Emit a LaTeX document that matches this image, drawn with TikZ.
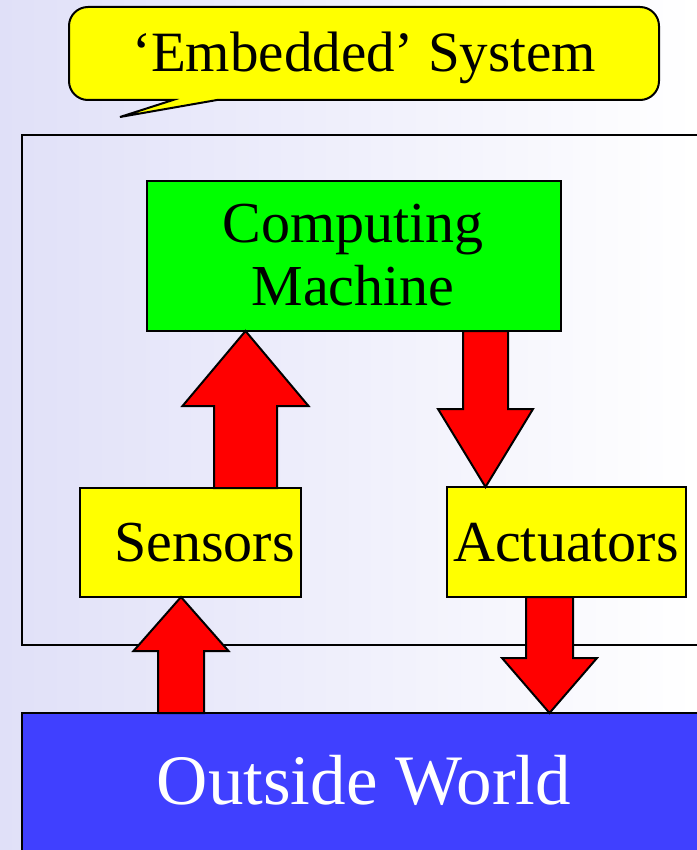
\documentclass[tikz,border=0pt]{standalone}
\usepackage{fontspec}
\setmainfont{Liberation Serif}
\usetikzlibrary{calc}
\definecolor{bgl}{RGB}{224,224,248}
\definecolor{wblue}{RGB}{64,64,255}
\definecolor{cgreen}{RGB}{0,255,0}
\definecolor{cyellow}{RGB}{255,255,0}
\definecolor{cred}{RGB}{255,0,0}
% block arrow: #1 base point, #2 tip point, #3 shaft half width, #4 head half width, #5 head length
\newcommand\vblock[5]{%
  \draw[blk] let \p1=(#1), \p2=(#2), \n1={ifthenelse(\y2>\y1,1,-1)} in
    (\x1-#3pt,\y1) -- (\x1-#3pt,\y2-\n1*#5pt) -- (\x1-#4pt,\y2-\n1*#5pt) --
    (\x1,\y2) -- (\x1+#4pt,\y2-\n1*#5pt) -- (\x1+#3pt,\y2-\n1*#5pt) --
    (\x1+#3pt,\y1) -- cycle;}
\begin{document}
\begin{tikzpicture}[x=1pt,y=-1pt,
  box/.style={draw=black, line width=2pt, rectangle, inner sep=0pt, outer sep=0pt},
  lbl/.style={font=\fontsize{58}{63}\selectfont, inner sep=0pt, anchor=base},
  blk/.style={draw=black, fill=cred, line width=2pt, line join=miter},
  bubble/.style={draw=black, fill=cyellow, line width=2pt, line join=miter}]
\useasboundingbox (0,0) rectangle (696,850);
\fill[left color=bgl, right color=white] (0,0) rectangle (696,850);
% callout
\draw[bubble] (120,117) -- (217,100) -- (640,100)
  .. controls (650.5,100) and (659,91.5) .. (659,81) -- (659,26)
  .. controls (659,15.5) and (650.5,7) .. (640,7) -- (88,7)
  .. controls (77.5,7) and (69,15.5) .. (69,26) -- (69,81)
  .. controls (69,91.5) and (77.5,100) .. (88,100) -- (173,100) -- cycle;
\node[lbl, font=\fontsize{57}{60}\selectfont] (title) at (364,72) {‘Embedded’ System};
% system box
\node[box, minimum width=698pt, minimum height=510pt] (sys) at (371,390) {};
% boxes
\node[box, fill=cgreen, minimum width=414pt, minimum height=150pt] (comp) at (354,256) {};
\node[lbl] (compl1) at (353,242) {Computing};
\node[lbl] (compl2) at (353,305) {Machine};
\node[box, fill=cyellow, minimum width=221pt, minimum height=109pt] (sens) at (190.5,542.5) {};
\node[lbl] (sensl) at (204.5,561) {Sensors};
\node[box, fill=cyellow, minimum width=239pt, minimum height=110pt] (act) at (566.5,542) {};
\node[lbl] (actl) at (566,561) {Actuators};
\node[box, fill=wblue, minimum width=700pt, minimum height=200pt] (world) at (372,813) {};
\node[lbl, text=white, font=\fontsize{71}{74}\selectfont] (worldl) at (364,804) {Outside World};
% arrows
\vblock{245.5,0 |- sens.north}{245.5,0 |- comp.south}{31.5}{63}{75}
\vblock{485.5,0 |- comp.south}{485.5,0 |- act.north}{22.5}{47.5}{78}
\vblock{181,0 |- world.north}{181,0 |- sens.south}{23}{47.5}{54}
\vblock{549.5,0 |- act.south}{549.5,0 |- world.north}{23.5}{47.5}{55}
\end{tikzpicture}
\end{document}
